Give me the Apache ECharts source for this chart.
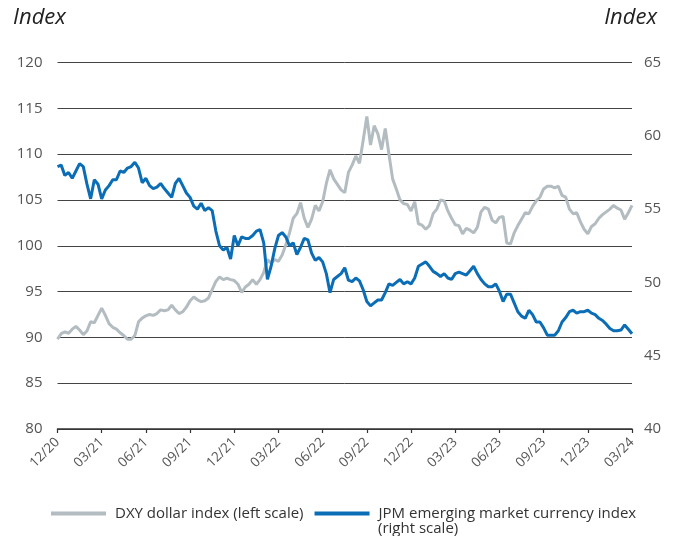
<!DOCTYPE html>
<html>
<head>
<meta charset="utf-8">
<script src="https://cdn.jsdelivr.net/npm/echarts@6/dist/echarts.min.js"></script>
<style>html,body{margin:0;padding:0;background:#fff;}#c{width:678px;height:536px;}</style>
</head>
<body>
<div id="c"></div>
<script>
// Quarterly tick labels (each quarter split into 12 weekly steps)
const tickLabels = ['12/20','03/21','06/21','09/21','12/21','03/22','06/22','09/22','12/22','03/23','06/23','09/23','12/23','03/24'];
const seriesNames = ['DXY dollar index (left scale)', 'JPM emerging market currency index (right scale)'];

// DXY dollar index, weekly (left scale)
const dxy = [
89.8,90.4,90.6,90.45,90.9,91.2,90.8,90.3,90.7,91.7,
91.6,92.4,93.2,92.4,91.5,91.1,90.9,90.5,90.2,89.8,
89.8,90.2,91.7,92.1,92.35,92.5,92.4,92.6,93.0,92.9,
93.0,93.5,93.0,92.6,92.8,93.3,94.0,94.4,94.1,93.9,
94.0,94.3,95.2,96.1,96.6,96.3,96.45,96.3,96.2,95.8,
94.9,95.5,95.8,96.3,95.8,96.3,97.1,98.5,98.1,98.5,
98.3,99.0,100.1,101.4,103.0,103.5,104.7,103.0,102.0,102.9,
104.4,103.8,104.8,106.8,108.3,107.3,106.7,106.1,105.8,108.0,
108.8,109.8,109.0,111.5,114.1,111.0,113.1,112.2,110.5,112.8,
110.0,107.3,106.2,105.0,104.6,104.5,103.8,104.8,102.4,102.25,
101.8,102.2,103.5,104.0,105.0,104.9,103.8,103.0,102.3,102.2,
101.3,101.9,101.7,101.4,102.0,103.7,104.2,104.0,102.8,102.5,
103.1,103.2,100.3,100.2,101.4,102.2,102.9,103.6,103.5,104.3,
104.9,105.3,106.2,106.5,106.5,106.3,106.5,105.5,105.3,104.0,
103.5,103.6,102.6,101.8,101.3,102.1,102.4,103.0,103.4,103.7,
104.0,104.4,104.1,103.9,102.9,103.6,104.4
];

// JPM emerging market currency index, weekly (right scale)
const jpm = [
57.9,58.0,57.3,57.5,57.1,57.6,58.1,57.9,56.7,55.7,
57.0,56.7,55.7,56.3,56.6,57.0,57.0,57.6,57.5,57.8,
57.9,58.2,57.8,56.8,57.1,56.6,56.4,56.5,56.75,56.4,
56.1,55.8,56.75,57.1,56.6,56.1,55.8,55.2,55.0,55.4,
54.9,55.1,54.9,53.5,52.5,52.2,52.4,51.6,53.2,52.5,
53.1,53.0,53.0,53.2,53.5,53.6,52.7,50.2,51.1,52.3,
53.2,53.4,53.1,52.5,52.7,51.9,52.4,53.0,52.9,52.0,
51.5,51.7,51.4,50.6,49.3,50.2,50.4,50.6,51.0,50.15,
50.05,50.3,50.1,49.5,48.7,48.4,48.6,48.8,48.8,49.3,
49.9,49.8,50.0,50.2,49.9,50.05,49.9,50.3,51.1,51.25,
51.4,51.1,50.75,50.6,50.4,50.6,50.3,50.2,50.6,50.7,
50.6,50.5,50.8,51.1,50.6,50.2,49.9,49.7,49.7,49.9,
49.4,48.7,49.2,49.2,48.6,48.0,47.7,47.55,48.1,47.8,
47.3,47.3,46.9,46.4,46.4,46.4,46.7,47.3,47.6,48.0,
48.1,47.9,48.0,48.0,48.1,47.9,47.8,47.55,47.4,47.15,
46.85,46.7,46.7,46.75,47.1,46.8,46.5
];

const stepsPerQuarter = 12;
const lastIdx = (tickLabels.length - 1) * stepsPerQuarter;
const FONT = '"Open Sans", "Noto Sans", sans-serif';

const chart = echarts.init(document.getElementById('c'), null, {renderer: 'canvas'});
chart.setOption({
  animation: false,
  backgroundColor: '#fff',
  title: [
    {text: 'Index', left: 8, top: 2, textStyle: {fontFamily: FONT, fontStyle: 'italic', fontWeight: 'normal', fontSize: 22, color: '#222'}},
    {text: 'Index', right: 16, top: 2, textStyle: {fontFamily: FONT, fontStyle: 'italic', fontWeight: 'normal', fontSize: 22, color: '#222'}}
  ],
  grid: {left: 57.5, right: 46, top: 62.5, bottom: 107, containLabel: false},
  legend: {
    left: 46, top: 501,
    icon: 'rect', itemWidth: 55, itemHeight: 4, itemGap: 11,
    textStyle: {fontFamily: FONT, fontSize: 15, color: '#333', padding: [0, 0, 0, 4]},
    formatter: function (n) { return n.indexOf('JPM') === 0 ? n.replace(' (right scale)', '') : n; },
    data: seriesNames
  },
  graphic: [
    {type: 'text', left: 378, top: 521, style: {text: '(right scale)', font: '15px ' + FONT, fill: '#333'}}
  ],
  xAxis: {
    type: 'value', min: 0, max: lastIdx, interval: stepsPerQuarter,
    axisLine: {show: true, onZero: false, lineStyle: {color: '#333', width: 1.5}},
    axisTick: {show: true, length: 4, lineStyle: {color: '#333', width: 1.2}},
    splitLine: {show: false},
    axisLabel: {
      rotate: 45, margin: 11, fontFamily: FONT, fontSize: 13.5, color: '#555',
      formatter: function (v) { return tickLabels[Math.round(v / stepsPerQuarter)] || ''; }
    }
  },
  yAxis: [
    {
      type: 'value', min: 80, max: 120, interval: 5, position: 'left',
      axisLine: {show: false}, axisTick: {show: false},
      splitLine: {show: true, lineStyle: {color: '#444', width: 1}},
      axisLabel: {margin: 15, fontFamily: FONT, fontSize: 15, color: '#555'}
    },
    {
      type: 'value', min: 40, max: 65, interval: 5, position: 'right',
      axisLine: {show: false}, axisTick: {show: false},
      splitLine: {show: false},
      axisLabel: {margin: 12, fontFamily: FONT, fontSize: 15, color: '#555'}
    }
  ],
  series: [
    {
      name: seriesNames[0], type: 'line', yAxisIndex: 0, showSymbol: false, symbol: 'none',
      lineStyle: {color: '#b3bcc0', width: 3}, itemStyle: {color: '#b3bcc0'},
      data: dxy.map(function (v, i) { return [i, v]; })
    },
    {
      name: seriesNames[1], type: 'line', yAxisIndex: 1, showSymbol: false, symbol: 'none',
      lineStyle: {color: '#0a6db5', width: 3}, itemStyle: {color: '#0a6db5'},
      data: jpm.map(function (v, i) { return [i, v]; })
    }
  ]
});
</script>
</body>
</html>
